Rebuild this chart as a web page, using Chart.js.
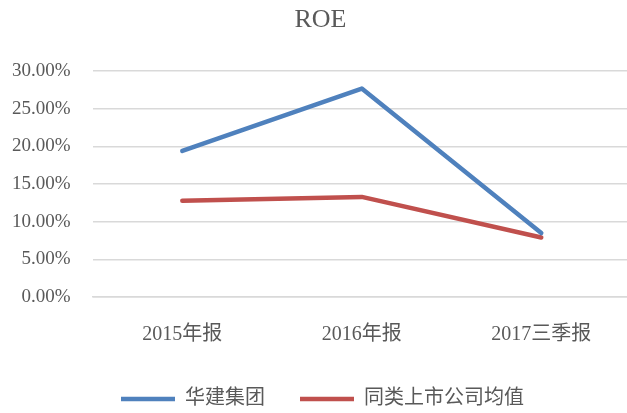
<!DOCTYPE html>
<html>
<head>
<meta charset="utf-8">
<script src="https://cdn.jsdelivr.net/npm/chart.js@4/dist/chart.umd.min.js"></script>
<style>
  html, body { margin: 0; padding: 0; background: #fff; overflow: hidden; }
  #wrap { width: 645px; height: 413px; }
</style>
</head>
<body>
<div id="wrap"><canvas id="roe"></canvas></div>
<script>
// 数据
const periods = ["2015年报", "2016年报", "2017三季报"];
const huajian = [0.194, 0.277, 0.085];
const peerAvg = [0.128, 0.133, 0.079];
const yTicks = [0, 0.05, 0.10, 0.15, 0.20, 0.25, 0.30];

const serif = "'Liberation Serif', 'Noto Sans CJK SC', serif";

// 微调标题和图例的位置
const boxShift = {
  id: "boxShift",
  afterLayout(chart) {
    const lg = chart.legend;
    lg.top -= 19;
    lg.bottom -= 19;
    lg.left += 12;
    lg.right += 12;
    const tt = chart.titleBlock;
    tt.left += 10;
    tt.right += 10;
  },
};

const ctx = document.getElementById("roe").getContext("2d");
new Chart(ctx, {
  type: "line",
  data: {
    labels: periods,
    datasets: [
      {
        label: "华建集团",
        data: huajian,
        borderColor: "#4f81bd",
        backgroundColor: "#4f81bd",
        borderWidth: 4.5,
        pointRadius: 0,
        tension: 0,
        borderCapStyle: "round",
        borderJoinStyle: "round",
      },
      {
        label: "同类上市公司均值",
        data: peerAvg,
        borderColor: "#c0504d",
        backgroundColor: "#c0504d",
        borderWidth: 4.5,
        pointRadius: 0,
        tension: 0,
        borderCapStyle: "round",
        borderJoinStyle: "round",
      },
    ],
  },
  plugins: [boxShift],
  options: {
    responsive: true,
    maintainAspectRatio: false,
    animation: false,
    layout: { padding: { top: 4, right: 14, left: -10, bottom: -25 } },
    plugins: {
      title: {
        display: true,
        text: "ROE",
        color: "#595959",
        font: { family: serif, size: 26, weight: "normal" },
        padding: { top: 1, bottom: 35 },
      },
      legend: {
        position: "bottom",
        labels: {
          usePointStyle: true,
          pointStyle: "line",
          pointStyleWidth: 54,
          boxHeight: 20,
          color: "#595959",
          padding: 35,
          font: { family: serif, size: 20 },
        },
      },
      tooltip: { enabled: false },
    },
    scales: {
      x: {
        offset: true,
        grid: { display: false, drawTicks: false },
        border: { display: true, color: "#d9d9d9", width: 1.5 },
        ticks: {
          color: "#595959",
          padding: 26,
          font: { family: serif, size: 20 },
        },
      },
      y: {
        min: 0,
        max: 0.3,
        afterBuildTicks: (axis) => {
          axis.ticks = yTicks.map((v) => ({ value: v }));
        },
        grid: { color: "#d9d9d9", lineWidth: 1.5, drawTicks: false },
        border: { display: false },
        ticks: {
          color: "#595959",
          padding: 22,
          font: { family: serif, size: 19 },
          callback: (v) => (v * 100).toFixed(2) + "%",
        },
      },
    },
  },
});
</script>
</body>
</html>
